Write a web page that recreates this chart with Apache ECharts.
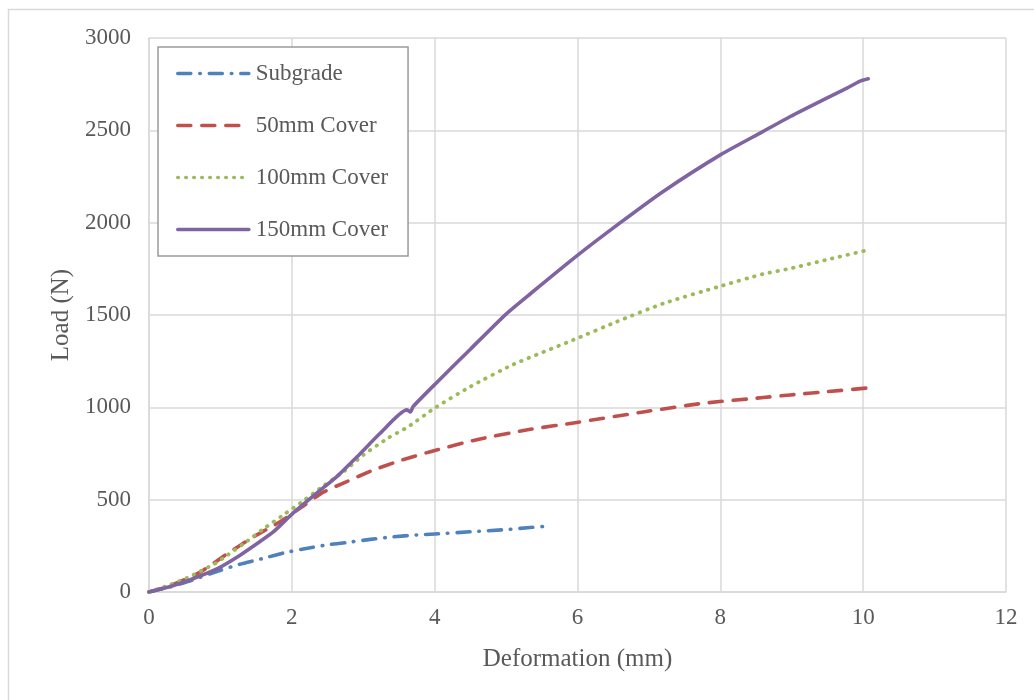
<!DOCTYPE html>
<html>
<head>
<meta charset="utf-8">
<script src="https://cdn.jsdelivr.net/npm/echarts@6/dist/echarts.min.js"></script>
<style>
  html, body { margin: 0; padding: 0; background: #ffffff; }
  #chart { width: 1034px; height: 700px; }
</style>
</head>
<body>
<div id="chart"></div>
<script>
// Load–deformation curves, [deformation (mm), load (N)]
const subgrade = [
  [0, 0], [0.3, 28], [0.57, 60], [0.97, 114], [1.27, 150], [1.57, 179], [1.88, 211],
  [2.16, 233], [2.49, 255], [2.77, 268], [3.1, 285], [3.4, 298], [3.75, 309],
  [4.0, 314], [4.5, 326], [5.0, 338], [5.3, 348], [5.6, 357]
];
const cover50 = [
  [0, 0], [0.3, 35], [0.71, 106], [1.11, 211], [1.46, 298], [1.83, 379], [2.16, 466],
  [2.44, 540], [2.77, 598], [3.14, 660], [3.52, 712], [3.94, 760], [4.59, 825],
  [5.34, 881], [5.99, 918], [6.92, 975], [7.76, 1022], [8.6, 1053], [8.98, 1067],
  [9.5, 1085], [10.07, 1105]
];
const cover100 = [
  [0, 0], [0.3, 40], [0.53, 76], [0.95, 159], [1.04, 184], [1.32, 260], [1.6, 341],
  [1.88, 417], [2.16, 493], [2.44, 574], [2.72, 650], [3.0, 742], [3.35, 834],
  [3.63, 895], [4.0, 996], [4.5, 1112], [5.1, 1232], [5.94, 1365], [6.55, 1464],
  [7.2, 1562], [8.0, 1656], [8.6, 1722], [8.98, 1752], [9.5, 1800], [10.07, 1852]
];
const cover150 = [
  [0, 0], [0.3, 30], [0.57, 65], [0.95, 125], [1.27, 198], [1.55, 272], [1.74, 325],
  [2.02, 428], [2.35, 536], [2.63, 625], [2.91, 731], [3.24, 861], [3.61, 986],
  [3.66, 975], [3.7, 1005], [4.03, 1135], [4.5, 1315], [5.0, 1505], [5.34, 1615],
  [5.99, 1820], [6.6, 2000], [7.2, 2169], [8.0, 2367], [8.6, 2494], [8.98, 2575],
  [9.44, 2665], [9.78, 2730], [9.95, 2765], [10.07, 2779]
];
const seriesNames = ['Subgrade', '50mm Cover', '100mm Cover', '150mm Cover'];
const seriesColors = ['#4F81BD', '#C0504D', '#9BBB59', '#8064A2'];

const textColor = '#595959';
const gridColor = '#d9d9d9';
const font = 'Liberation Serif';

const chart = echarts.init(document.getElementById('chart'), null, { renderer: 'canvas' });

function lineSeries(name, data, color, dash, width) {
  return {
    name: name,
    type: 'line',
    data: data,
    symbol: 'none',
    smooth: 0.2,
    lineStyle: { color: color, width: width, type: dash, cap: 'round', join: 'round' },
    itemStyle: { color: color },
    emphasis: { disabled: true },
    animation: false
  };
}

chart.setOption({
  backgroundColor: '#ffffff',
  animation: false,
  graphic: [{
    type: 'rect',
    shape: { x: 8.5, y: 9.5, width: 1040, height: 700 },
    style: { fill: 'none', stroke: '#d9d9d9', lineWidth: 1.5 },
    silent: true,
    z: -10
  }],
  grid: { left: 149, right: 28, top: 38, bottom: 108, containLabel: false },
  legend: {
    orient: 'vertical',
    left: 158,
    top: 47,
    padding: [15, 20, 15, 18],
    itemGap: 29,
    itemWidth: 71,
    itemHeight: 20,
    itemStyle: { opacity: 0 },
    lineStyle: { width: 3.6 },
    backgroundColor: '#ffffff',
    borderColor: '#9a9a9a',
    borderWidth: 1.5,
    textStyle: { color: textColor, fontFamily: font, fontSize: 23, padding: [0, 0, 0, 2] },
    data: seriesNames
  },
  xAxis: {
    type: 'value',
    min: 0, max: 12, interval: 2,
    name: 'Deformation (mm)',
    nameLocation: 'middle',
    nameGap: 55,
    nameTextStyle: { color: textColor, fontFamily: font, fontSize: 25 },
    axisLine: { show: true, lineStyle: { color: gridColor, width: 1.5 } },
    axisTick: { show: false },
    axisLabel: { color: textColor, fontFamily: font, fontSize: 23, margin: 14, formatter: v => String(v) },
    splitLine: { show: true, lineStyle: { color: gridColor, width: 1.5 } }
  },
  yAxis: {
    type: 'value',
    min: 0, max: 3000, interval: 500,
    name: 'Load (N)',
    nameLocation: 'middle',
    nameGap: 66,
    nameTextStyle: { color: textColor, fontFamily: font, fontSize: 25 },
    axisLine: { show: true, lineStyle: { color: gridColor, width: 1.5 } },
    axisTick: { show: false },
    axisLabel: { color: textColor, fontFamily: font, fontSize: 23, margin: 18, formatter: v => String(v) },
    splitLine: { show: true, lineStyle: { color: gridColor, width: 1.5 } }
  },
  series: [
    lineSeries(seriesNames[0], subgrade, seriesColors[0], [13, 9, 0.5, 9], 3.6),
    lineSeries(seriesNames[1], cover50, seriesColors[1], [13, 11], 3.6),
    lineSeries(seriesNames[2], cover100, seriesColors[2], [0.5, 7.5], 3.8),
    lineSeries(seriesNames[3], cover150, seriesColors[3], 'solid', 3.6)
  ]
});
</script>
</body>
</html>
